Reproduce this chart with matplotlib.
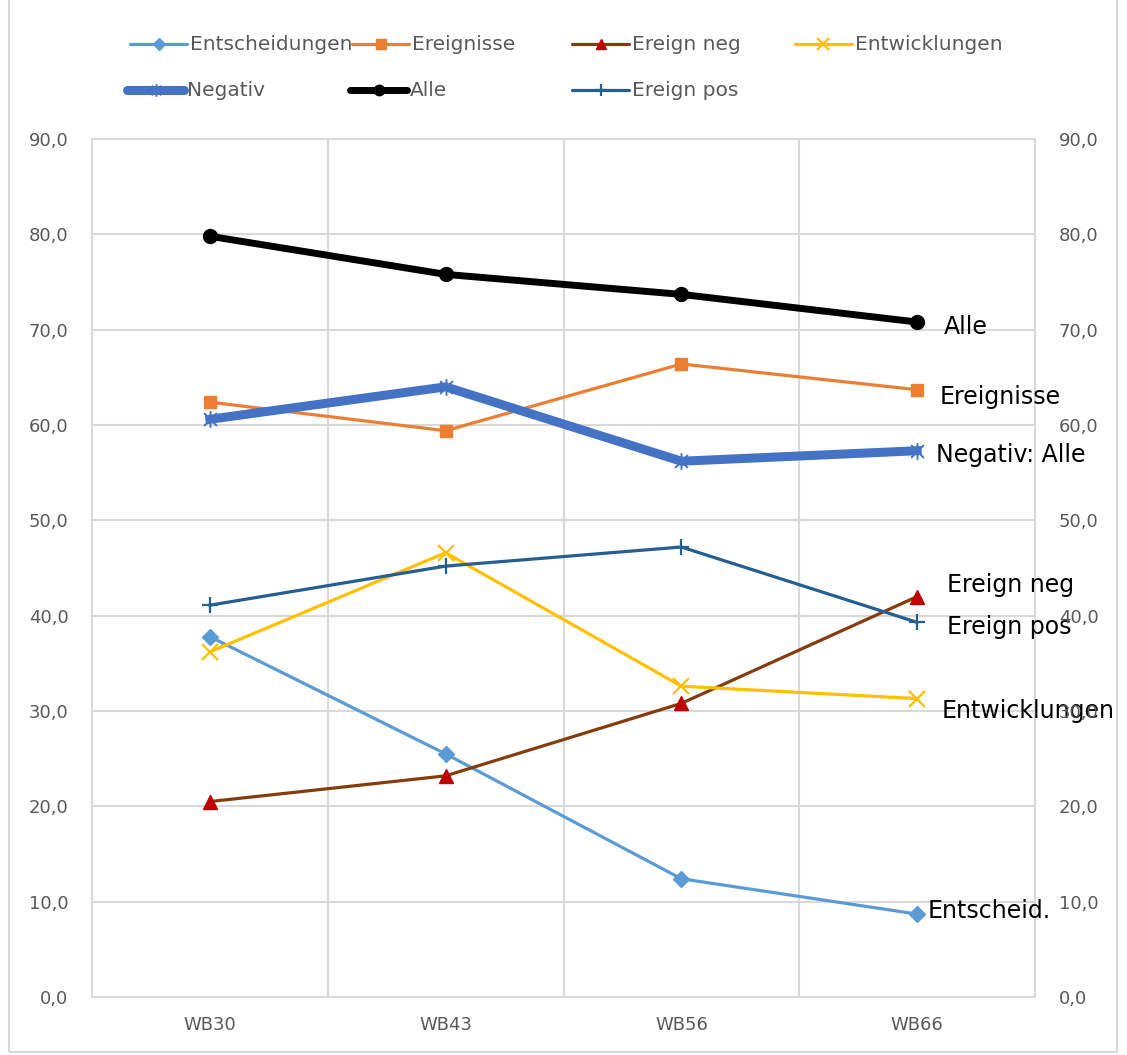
import matplotlib.pyplot as plt
from matplotlib.lines import Line2D
from matplotlib.patches import Rectangle
from matplotlib.path import Path
import numpy as np

waves = ['WB30', 'WB43', 'WB56', 'WB66']

entscheidungen = [37.8, 25.5, 12.4, 8.7]
ereignisse = [62.4, 59.4, 66.4, 63.7]
ereign_neg = [20.5, 23.2, 30.8, 42.0]
entwicklungen = [36.2, 46.6, 32.6, 31.3]
negativ = [60.6, 64.0, 56.2, 57.3]
alle = [79.8, 75.8, 73.7, 70.8]
ereign_pos = [41.1, 45.2, 47.2, 39.3]

yticks = [0, 10, 20, 30, 40, 50, 60, 70, 80, 90]

# asterisk marker: an x with a vertical bar through it
star = Path([(-1, -1), (1, 1), (-1, 1), (1, -1), (0, -1.3), (0, 1.3)],
            [Path.MOVETO, Path.LINETO, Path.MOVETO, Path.LINETO, Path.MOVETO, Path.LINETO])

grey = '#D9D9D9'
txt = '#595959'

series = [
    # label, values, style, end label, end label offset (px)
    ('Entscheidungen', entscheidungen, dict(color='#5B9BD5', lw=2.3, marker='D', ms=8, mfc='#5B9BD5', mec='#5B9BD5'), 'Entscheid.', (10, 3)),
    ('Ereignisse', ereignisse, dict(color='#ED7D31', lw=2.3, marker='s', ms=9, mfc='#ED7D31', mec='#ED7D31'), 'Ereignisse', (22, -7)),
    ('Ereign neg', ereign_neg, dict(color='#843C0C', lw=2.3, marker='^', ms=10, mfc='#C00000', mec='#C00000'), 'Ereign neg', (30, 12)),
    ('Entwicklungen', entwicklungen, dict(color='#FFC000', lw=2.3, marker='x', ms=11, mew=1.6, mec='#FFC000'), 'Entwicklungen', (24, -12)),
    ('Negativ', negativ, dict(color='#4472C4', lw=6.5, marker=star, ms=12, mew=1.4, mfc='none', mec='#4472C4'), 'Negativ: Alle', (19, -4)),
    ('Alle', alle, dict(color='black', lw=5, marker='o', ms=10, mfc='black', mec='black'), 'Alle', (27, -5)),
    ('Ereign pos', ereign_pos, dict(color='#255E91', lw=2.3, marker='+', ms=12, mew=1.6, mec='#255E91'), 'Ereign pos', (30, -5)),
]

fig = plt.figure(figsize=(11.27, 10.55), dpi=100)
ax = fig.add_axes([92 / 1127, 1 - 997 / 1055, (1035 - 92) / 1127, (997 - 139) / 1055])

x = np.arange(len(waves))
for label, vals, style, end_label, off in series:
    ax.plot(x, vals, label=label, **style)
    ax.annotate(end_label, (x[-1], vals[-1]), xytext=off, textcoords='offset pixels',
                ha='left', va='center', fontsize=17, color='black', annotation_clip=False)

ax.set_xlim(-0.5, 3.5)
ax.set_ylim(0, 90)
ax.set_yticks(yticks)
ax.set_yticklabels([f'{v:.1f}'.replace('.', ',') for v in yticks])
ax.set_xticks(x)
ax.set_xticklabels(waves)
ax.set_xticks([0.5, 1.5, 2.5], minor=True)
ax.grid(True, axis='y', color=grey, lw=1.5)
ax.grid(True, axis='x', which='minor', color=grey, lw=1.5)
ax.set_axisbelow(True)
ax.tick_params(axis='y', length=0, pad=17, labelsize=13, labelcolor=txt)
ax.tick_params(axis='x', which='both', length=0, pad=14, labelsize=13, labelcolor=txt)
for s in ax.spines.values():
    s.set_color(grey)
    s.set_linewidth(1.5)

ax2 = ax.twinx()
ax2.set_ylim(0, 90)
ax2.set_yticks(yticks)
ax2.set_yticklabels([f'{v:.1f}'.replace('.', ',') for v in yticks])
ax2.tick_params(axis='y', length=0, pad=17, labelsize=13, labelcolor=txt)
for s in ax2.spines.values():
    s.set_visible(False)

# legend laid out by hand, four slots per row
W, H = 1127, 1055
slots = [(130, 44), (352, 44), (572, 44), (795, 44),
         (127, 90), (350, 90), (572, 90)]
handle_len = 57
for (label, vals, style, end_label, off), (lx, ly) in zip(series, slots):
    fy = 1 - ly / H
    x0, x1 = lx / W, (lx + handle_len) / W
    lw = style['lw']
    fig.add_artist(Line2D([x0, x1], [fy, fy], color=style['color'], lw=lw,
                          transform=fig.transFigure, solid_capstyle='round'))
    mstyle = {k: v for k, v in style.items() if k not in ('color', 'lw', 'ms')}
    fig.add_artist(Line2D([(x0 + x1) / 2], [fy], ls='none', ms=style['ms'] * 0.75,
                          transform=fig.transFigure, **mstyle))
    fig.text(x1 + 3 / W, fy, label, ha='left', va='center', fontsize=14.5, color=txt)

# outer chart frame
fig.add_artist(Rectangle((9 / W, 3 / H), (1117 - 9) / W, 1.2, transform=fig.transFigure,
                         fill=False, edgecolor=grey, lw=1.5))

plt.savefig('out.png', dpi=100)
